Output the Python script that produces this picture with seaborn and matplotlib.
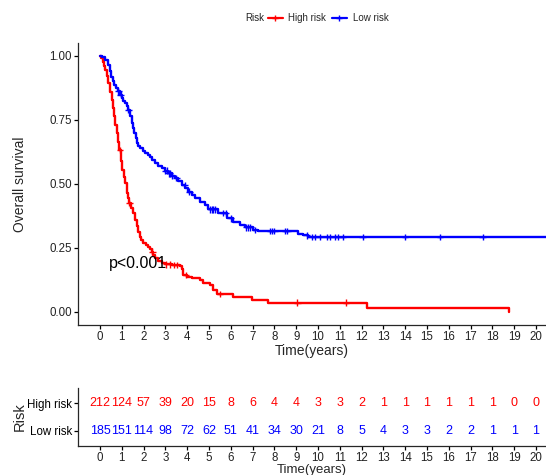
import numpy as np
import pandas as pd
import matplotlib
matplotlib.use("Agg")
import matplotlib.pyplot as plt
from matplotlib.lines import Line2D
import seaborn as sns

# ---------------- data ----------------
red_time = [0, 0.05, 0.12, 0.18, 0.23, 0.3, 0.38, 0.45, 0.54, 0.6, 0.66, 0.71, 0.76, 0.82, 0.87,
            0.95, 1.02, 1.08, 1.15, 1.22, 1.28, 1.35, 1.44, 1.53, 1.6, 1.68, 1.75, 1.83, 1.9, 1.99,
            2.1, 2.22, 2.3, 2.37, 2.45, 2.52, 2.65, 2.83, 3.0, 3.29, 3.67, 3.75, 3.82, 4.0, 4.2,
            4.59, 4.74, 5.05, 5.2, 5.35, 6.12, 6.96, 7.72, 12.25, 18.78]
red_surv = [1.0, 0.99, 0.975, 0.96, 0.945, 0.92, 0.893, 0.86, 0.828, 0.795, 0.763, 0.73, 0.698,
            0.665, 0.632, 0.59, 0.554, 0.528, 0.502, 0.463, 0.445, 0.424, 0.405, 0.385, 0.36,
            0.333, 0.312, 0.293, 0.28, 0.27, 0.262, 0.254, 0.245, 0.235, 0.222, 0.209, 0.198,
            0.189, 0.185, 0.183, 0.178, 0.165, 0.144, 0.137, 0.13, 0.124, 0.111, 0.105, 0.085,
            0.069, 0.059, 0.046, 0.035, 0.016, 0.0]
red_censor = [0.92, 1.35, 2.4, 3.05, 3.2, 3.4, 3.55, 3.95, 5.5, 9.05, 11.28]

blue_time = [0, 0.1, 0.23, 0.38, 0.45, 0.5, 0.58, 0.66, 0.75, 0.84, 0.92, 0.99, 1.07, 1.15, 1.22,
             1.3, 1.38, 1.45, 1.52, 1.58, 1.63, 1.68, 1.75, 1.83, 1.95, 2.06, 2.18, 2.29, 2.4,
             2.52, 2.68, 2.83, 2.98, 3.13, 3.28, 3.44, 3.6, 3.75, 3.9, 4.05, 4.2, 4.36, 4.6, 4.82,
             4.97, 5.43, 5.81, 6.12, 6.42, 6.65, 7.0, 7.26, 9.1, 9.3, 9.55, 20.8]
blue_surv = [1.0, 0.995, 0.984, 0.965, 0.94, 0.919, 0.9, 0.887, 0.874, 0.861, 0.848, 0.834, 0.825,
             0.815, 0.802, 0.789, 0.763, 0.737, 0.718, 0.698, 0.678, 0.659, 0.649, 0.639, 0.629,
             0.619, 0.612, 0.606, 0.593, 0.58, 0.57, 0.561, 0.551, 0.541, 0.531, 0.522, 0.509,
             0.496, 0.482, 0.469, 0.456, 0.443, 0.43, 0.417, 0.4, 0.385, 0.365, 0.352, 0.339,
             0.33, 0.32, 0.315, 0.305, 0.298, 0.292, 0.292]
blue_censor = [0.84, 0.95, 1.3, 3.0, 3.08, 3.15, 3.22, 3.3, 3.5, 3.88, 4.1, 5.05, 5.12, 5.2, 5.28,
               5.66, 5.78, 6.0, 6.7, 6.8, 6.9, 7.1, 7.8, 7.9, 8.0, 8.5, 8.6, 9.48, 9.71, 9.86,
               10.09, 10.4, 10.55, 10.78, 10.93, 11.13, 12.05, 14.0, 15.6, 17.55]

groups = ["High risk", "Low risk"]
colors = {"High risk": "#FF0000", "Low risk": "#0000FF"}
table_times = list(range(0, 21))
high_at_risk = [212, 124, 57, 39, 20, 15, 8, 6, 4, 4, 3, 3, 2, 1, 1, 1, 1, 1, 1, 0, 0]
low_at_risk = [185, 151, 114, 98, 72, 62, 51, 41, 34, 30, 21, 8, 5, 4, 3, 3, 2, 2, 1, 1, 1]
p_text = "p<0.001"

# ---------------- build frames ----------------
curve = pd.concat([
    pd.DataFrame({"time": red_time, "surv": red_surv, "Risk": "High risk"}),
    pd.DataFrame({"time": blue_time, "surv": blue_surv, "Risk": "Low risk"}),
], ignore_index=True)


def surv_at(times, survs, t):
    idx = np.searchsorted(np.asarray(times), np.asarray(t), side="right") - 1
    return np.asarray(survs)[idx]


cens = pd.concat([
    pd.DataFrame({"time": red_censor, "surv": surv_at(red_time, red_surv, red_censor), "Risk": "High risk"}),
    pd.DataFrame({"time": blue_censor, "surv": surv_at(blue_time, blue_surv, blue_censor), "Risk": "Low risk"}),
], ignore_index=True)

# ---------------- style ----------------
sns.set_style("ticks")
plt.rcParams["font.family"] = ["Liberation Sans", "DejaVu Sans"]
plt.rcParams["axes.linewidth"] = 0.9
plt.rcParams["xtick.major.width"] = 0.9
plt.rcParams["ytick.major.width"] = 0.9

W, H = 546, 475
fig = plt.figure(figsize=(W / 100, H / 100), dpi=100)

left = 78 / W
ax = fig.add_axes([left, 1 - 324.5 / H, 1 - left, (324.5 - 43) / H])
axt = fig.add_axes([left, 1 - 446 / H, 1 - left, (446 - 388) / H])

# ---------------- survival curves ----------------
sns.lineplot(data=curve, x="time", y="surv", hue="Risk", palette=colors,
             estimator=None, sort=False, drawstyle="steps-post", linewidth=1.7,
             legend=False, ax=ax)
sns.scatterplot(data=cens, x="time", y="surv", hue="Risk", palette=colors,
                marker="+", s=22, linewidth=1.0, legend=False, ax=ax)

ax.set_xlim(-1.01, 20.46)
ax.set_ylim(-0.05, 1.05)
ax.set_xticks(table_times)
ax.set_yticks([0, 0.25, 0.5, 0.75, 1.0])
ax.set_yticklabels(["0.00", "0.25", "0.50", "0.75", "1.00"])
ax.tick_params(axis="both", labelsize=8.3, length=3, pad=1.5, colors="black", labelcolor="#222222")
ax.set_xlabel("Time(years)", fontsize=10, labelpad=1.0)
ax.set_ylabel("Overall survival", fontsize=10)
ax.yaxis.set_label_coords((27 - 78) / 468, 0.5)
sns.despine(ax=ax)
ax.text(0.41, 0.19, p_text, fontsize=11.5, ha="left", va="center", color="black")

# ---------------- legend ----------------
fig.text(245 / W, 1 - 18.3 / H, "Risk", fontsize=7, ha="left", va="center", color="#222222")
handles = [Line2D([], [], color=colors[g], lw=1.6, marker="+", markersize=5, markeredgewidth=1.0)
           for g in groups]
fig.legend(handles, groups, loc="center left", bbox_to_anchor=(268 / W, 1 - 18.3 / H),
           ncol=2, frameon=False, fontsize=7, handlelength=1.5, handletextpad=0.6,
           columnspacing=0.6, borderpad=0, borderaxespad=0)

# ---------------- risk table ----------------
rows = {"High risk": 2, "Low risk": 1}
for g, vals in (("High risk", high_at_risk), ("Low risk", low_at_risk)):
    for t, v in zip(table_times, vals):
        axt.text(t, rows[g], str(v), color=colors[g], fontsize=9, ha="center", va="center")
axt.set_xlim(-1.01, 20.46)
axt.set_ylim(0.46, 2.54)
axt.set_xticks(table_times)
axt.set_yticks([2, 1])
axt.set_yticklabels(["High risk", "Low risk"])
for lab in axt.get_yticklabels():
    lab.set_color(colors[lab.get_text()])
axt.tick_params(axis="both", labelsize=8.3, length=3, pad=1.5, colors="black")
axt.tick_params(axis="x", labelcolor="#222222")
axt.set_xlabel("Time(years)", fontsize=9.5, labelpad=0)
axt.set_ylabel("Risk", fontsize=10.5)
axt.yaxis.set_label_coords((27 - 78) / 468, 0.5)
sns.despine(ax=axt)

fig.savefig("out.png", dpi=100)
